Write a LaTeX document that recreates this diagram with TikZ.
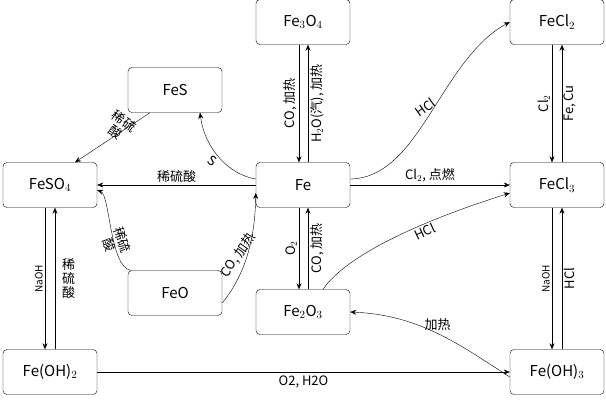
\documentclass[tikz,border=0pt]{standalone}
\usepackage{fontspec}
\setmainfont{Noto Sans CJK SC}
\usetikzlibrary{arrows.meta}
\tikzset{
    box/.style={draw, rounded corners=4pt, minimum width=94pt, minimum height=45pt, font=\fontsize{15}{17}\selectfont, inner sep=0pt},
    lbl/.style={font=\fontsize{13}{14}\selectfont, inner sep=1pt},
    arr/.style={-{Stealth[length=6pt,width=5pt]}, thin}
}
\begin{document}
\begin{tikzpicture}[x=1pt, y=-1pt]
    \useasboundingbox (0,0) rectangle (606,416);
    \node (fe3o4) [box] at (303, 22) {Fe$_3$O$_4$};
    \node (fecl2) [box] at (557, 22) {FeCl$_2$};
    \node (fes) [box] at (175, 90) {FeS};
    \node (feso4) [box] at (50, 185) {FeSO$_4$};
    \node (fe) [box] at (303, 185) {Fe};
    \node (fecl3) [box] at (557, 185) {FeCl$_3$};
    \node (feo) [box] at (175, 293) {FeO};
    \node (fe2o3) [box] at (303, 312) {Fe$_2$O$_3$};
    \node (feoh2) [box] at (50, 372) {Fe(OH)$_2$};
    \node (feoh3) [box] at (557, 372) {Fe(OH)$_3$};

    % Fe3O4 / Fe
    \draw[arr] ([xshift=-4pt]fe3o4.south) -- ([xshift=-4pt]fe.north) node[lbl, midway, rotate=90, above=1pt] {CO, 加热};
    \draw[arr] ([xshift=5pt]fe.north) -- ([xshift=5pt]fe3o4.south) node[lbl, midway, rotate=90, below=1pt] {H$_2$O(汽), 加热};
    % Fe / Fe2O3
    \draw[arr] ([xshift=-4pt]fe.south) -- ([xshift=-4pt]fe2o3.north) node[lbl, midway, rotate=90, above=1pt] {O$_2$};
    \draw[arr] ([xshift=5pt]fe2o3.north) -- ([xshift=5pt]fe.south) node[lbl, midway, rotate=90, below=1pt] {CO, 加热};
    % Fe to chlorides
    \draw[arr] ([yshift=6pt]fe.east) .. controls (420,178) and (440,60) .. (fecl2.west) node[lbl, pos=0.5, rotate=35, above=2pt] {HCl};
    \draw[arr] (fe.east) -- (fecl3.west) node[lbl, midway, above=2pt] {Cl$_2$, 点燃};
    \draw[arr] ([xshift=-5pt]fecl2.south) -- ([xshift=-5pt]fecl3.north) node[lbl, midway, rotate=90, above=1pt] {Cl$_2$};
    \draw[arr] ([xshift=5pt]fecl3.north) -- ([xshift=5pt]fecl2.south) node[lbl, midway, rotate=90, below=1pt] {Fe, Cu};
    \draw[arr] ([xshift=-5pt]fecl3.south) -- ([xshift=-5pt]feoh3.north) node[lbl, midway, rotate=90, above=1pt, font=\fontsize{10}{11}\selectfont] {NaOH};
    \draw[arr] ([xshift=5pt]feoh3.north) -- ([xshift=5pt]fecl3.south) node[lbl, midway, rotate=90, below=1pt] {HCl};
    % Fe to FeS, FeSO4
    \draw[arr] ([yshift=6pt]fe.west) .. controls (230,175) and (205,150) .. ([xshift=25pt]fes.south) node[lbl, pos=0.5, rotate=-35, below left=0pt] {S};
    \draw[arr] (fe.west) -- (feso4.east) node[lbl, midway, above=1pt] {稀硫酸};
    \draw[arr] ([xshift=-25pt]fes.south) -- ([xshift=25pt]feso4.north) node[lbl, midway, rotate=-35, above=-1pt, align=center] {稀硫\\酸};
    % FeO
    \draw[arr] ([xshift=-44pt]feo.north) .. controls (110,268) and (110,195) .. ([yshift=-5pt]feso4.east) node[lbl, pos=0.55, rotate=-70, right=4pt, align=center] {稀硫\\酸};
    \draw[arr] ([yshift=-10pt]feo.east) .. controls (245,275) and (255,240) .. ([yshift=-8pt]fe.west) node[lbl, pos=0.45, rotate=55, above=1pt] {CO, 加热};
    % Fe2O3 / Fe(OH)3
    \draw[arr] ([xshift=20pt]fe2o3.north) .. controls (350,250) and (440,215) .. ([yshift=-8pt]fecl3.west) node[lbl, pos=0.6, rotate=25, below=1pt] {HCl};
    \draw[arr] ([yshift=-5pt]feoh3.west) .. controls (460,345) and (420,315) .. (fe2o3.east) node[lbl, pos=0.5, above=2pt] {加热};
    % FeSO4 / Fe(OH)2
    \draw[arr] ([xshift=-5pt]feso4.south) -- ([xshift=-5pt]feoh2.north) node[lbl, midway, rotate=90, above=1pt, font=\fontsize{10}{11}\selectfont] {NaOH};
    \draw[arr] ([xshift=5pt]feoh2.north) -- ([xshift=5pt]feso4.south) node[lbl, midway, right=6pt, align=center] {稀\\硫\\酸};
    \draw[arr] (feoh2.east) -- (feoh3.west) node[lbl, midway, below=3pt] {O2, H2O};
\end{tikzpicture}
\end{document}
